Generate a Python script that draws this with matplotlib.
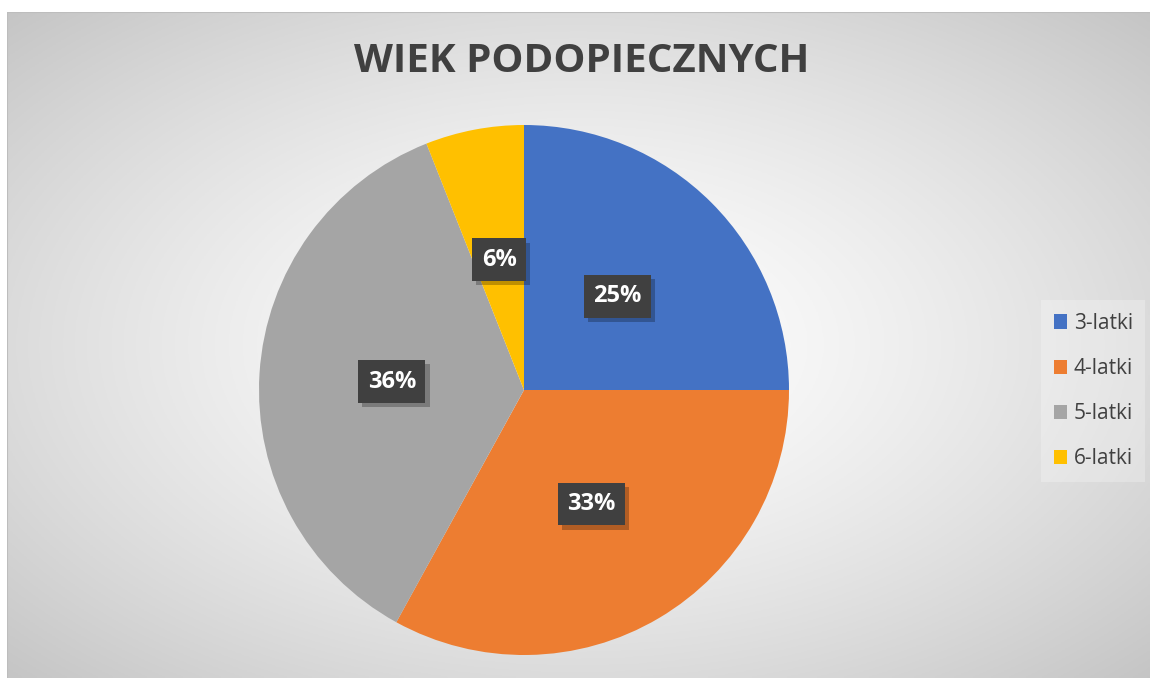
import numpy as np
import matplotlib
matplotlib.use("Agg")
import matplotlib.pyplot as plt
import matplotlib.patheffects as pe

categories = ["3-latki", "4-latki", "5-latki", "6-latki"]
values = [25, 33, 36, 6]
pct_labels = ["25%", "33%", "36%", "6%"]
colors = ["#4472C4", "#ED7D31", "#A5A5A5", "#FFC000"]
title = "WIEK PODOPIECZNYCH"

plt.rcParams['font.family'] = ['Open Sans', 'DejaVu Sans']

W, H = 1150, 678
fig = plt.figure(figsize=(W / 100, H / 100), dpi=100)
fig.patch.set_facecolor("white")

# background radial gradient (chart area)
x0, y0 = 7, 12
bg = fig.add_axes([x0 / W, 0, 1 - x0 / W, 1 - y0 / H])
bg.set_axis_off()
nx, ny = 400, 240
xs = np.linspace(x0, W, nx)
ys = np.linspace(y0, H, ny)
X, Y = np.meshgrid(xs, ys)
cx, cy = 578, 345
r = np.sqrt(((X - cx) / 571) ** 2 + ((Y - cy) / 333) ** 2) / np.sqrt(2)
v = (255 - 58 * np.clip(r, 0, 1.2) ** 1.4) / 255
img = np.dstack([v, v, v])
bg.imshow(img, extent=[0, 1, 0, 1], aspect="auto", origin="upper")
bg.set_xlim(0, 1)
bg.set_ylim(0, 1)
bg.plot([0, 1], [1, 1], color="#bdbdbd", lw=1.5, transform=bg.transAxes)
bg.plot([0, 0], [0, 1], color="#bdbdbd", lw=1.5, transform=bg.transAxes)

# pie
pcx, pcy, R = 524, 390, 265
ax = fig.add_axes([(pcx - R) / W, (H - pcy - R) / H, 2 * R / W, 2 * R / H])
ax.set_facecolor("none")
wedges, _ = ax.pie(values, colors=colors, startangle=90, counterclock=False,
                   radius=1, wedgeprops=dict(linewidth=0))
ax.set_xlim(-1, 1)
ax.set_ylim(-1, 1)
ax.set_aspect("equal")
ax.set_axis_off()

# data labels
total = sum(values)
cum = 0
for val, lab in zip(values, pct_labels):
    mid = 90 - 360 * (cum + val / 2) / total
    cum += val
    d = 0.5
    tx, ty = d * np.cos(np.radians(mid)), d * np.sin(np.radians(mid))
    t = ax.text(tx, ty, lab, ha="center", va="center", color="white",
                fontsize=17, fontweight="bold",
                bbox=dict(boxstyle="square,pad=0.4", fc="#404040", ec="none"))
    t.get_bbox_patch().set_path_effects([
        pe.SimplePatchShadow(offset=(3, -3), shadow_rgbFace="black", alpha=0.25),
        pe.Normal()])

# title
fig.text(582 / W, 1 - 61 / H, title, ha="center", va="center",
         fontsize=29, fontweight="bold", color="#404040")

# legend
leg = fig.legend(wedges, categories, loc="center left",
                 bbox_to_anchor=(1041 / W, 1 - 391 / H),
                 frameon=True, fontsize=15, labelspacing=1.16,
                 handlelength=0.67, handleheight=0.67, handletextpad=0.3,
                 borderpad=0.6, borderaxespad=0, fancybox=False)
leg.get_frame().set_facecolor("white")
leg.get_frame().set_alpha(0.25)
leg.get_frame().set_edgecolor("none")
for txt in leg.get_texts():
    txt.set_color("#404040")

fig.savefig("out.png", dpi=100)
